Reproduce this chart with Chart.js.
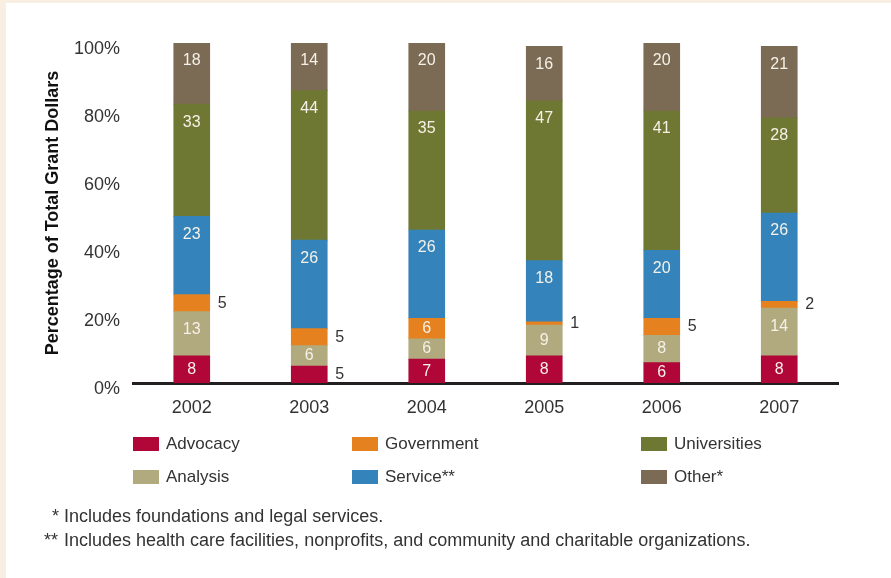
<!DOCTYPE html>
<html>
<head>
<meta charset="utf-8">
<script src="https://cdn.jsdelivr.net/npm/chart.js@4"></script>
<style>
  body { margin: 0; background: #f8eee2; font-family: "Liberation Sans", Arial, sans-serif; }
  #page { position: absolute; left: 6px; top: 3px; width: 885px; height: 575px; background: #fff; }
  #chart { position: absolute; left: 0; top: 0; }
  .leg { position: absolute; font-size: 17px; color: #333; line-height: 20px; }
  .leg span { position: absolute; left: 0; top: 3px; width: 26px; height: 14px; }
  .leg b { font-weight: normal; margin-left: 33px; }
  .note { position: absolute; font-size: 18px; color: #333; line-height: 20px; white-space: nowrap; }
  .note i { position: absolute; font-style: normal; }
</style>
</head>
<body>
<div id="page"></div>
<canvas id="chart" width="891" height="578"></canvas>
<div id="legend"></div>
<div class="note" style="left:64px; top:506px;"><i style="left:-12px">*</i>Includes foundations and legal services.</div>
<div class="note" style="left:64px; top:530px;"><i style="left:-20px">**</i>Includes health care facilities, nonprofits, and community and charitable organizations.</div>
<script>
const years = ["2002", "2003", "2004", "2005", "2006", "2007"];
const advocacy = [8, 5, 7, 8, 6, 8];
const analysis = [13, 6, 6, 9, 8, 14];
const government = [5, 5, 6, 1, 5, 2];
const service = [23, 26, 26, 18, 20, 26];
const universities = [33, 44, 35, 47, 41, 28];
const other = [18, 14, 20, 16, 20, 21];

const seriesNames = ["Advocacy", "Analysis", "Government", "Service**", "Universities", "Other*"];
const seriesColors = ["#b10738", "#b1aa7f", "#e5821f", "#3484bb", "#6f7833", "#7b6b54"];
const seriesValues = [advocacy, analysis, government, service, universities, other];

const FONT = "'Liberation Sans', Arial, sans-serif";

// legend: 3 columns, 2 rows (column-major)
const legendCols = [133, 352, 641];
const legendRows = [434, 467];
const legend = document.getElementById("legend");
seriesNames.forEach((name, k) => {
  const div = document.createElement("div");
  div.className = "leg";
  div.style.left = legendCols[Math.floor(k / 2)] + "px";
  div.style.top = legendRows[k % 2] + "px";
  div.innerHTML = `<span style="background:${seriesColors[k]}"></span><b>${name}</b>`;
  legend.appendChild(div);
});

// numbers on / beside each segment
const segmentLabels = {
  id: "segmentLabels",
  afterDatasetsDraw(chart) {
    const ctx = chart.ctx;
    ctx.save();
    ctx.font = "16px " + FONT;
    ctx.textBaseline = "middle";
    chart.data.datasets.forEach((ds, i) => {
      const meta = chart.getDatasetMeta(i);
      meta.data.forEach((bar, j) => {
        const v = ds.data[j];
        const top = Math.min(bar.y, bar.base);
        const bottom = Math.max(bar.y, bar.base);
        const mid = (top + bottom) / 2;
        if (v <= 5) {
          ctx.fillStyle = "#333";
          ctx.textAlign = "left";
          ctx.fillText(v, bar.x + bar.width / 2 + 8, mid);
        } else {
          ctx.fillStyle = "#f6f1e8";
          ctx.textAlign = "center";
          ctx.fillText(v, bar.x, Math.min(top + 18, mid));
        }
      });
    });
    ctx.restore();
  }
};

new Chart(document.getElementById("chart"), {
  type: "bar",
  data: {
    labels: years,
    datasets: seriesValues.map((vals, i) => ({
      label: seriesNames[i],
      data: vals,
      backgroundColor: seriesColors[i],
      borderWidth: 0,
      barThickness: 36
    }))
  },
  options: {
    responsive: false,
    animation: false,
    layout: { padding: { left: 38, right: 53, top: 43, bottom: 0 } },
    plugins: {
      legend: { display: false },
      tooltip: { enabled: false }
    },
    scales: {
      x: {
        stacked: true,
        grid: { display: false, drawTicks: false },
        border: { display: true, color: "#231f20", width: 3 },
        ticks: { color: "#333", font: { family: FONT, size: 18 }, padding: 14 },
        afterFit: (scale) => { scale.height = 195; }
      },
      y: {
        stacked: true,
        min: 0,
        max: 100,
        grid: { display: false, drawTicks: false },
        border: { display: false },
        ticks: {
          stepSize: 20,
          color: "#333",
          font: { family: FONT, size: 18 },
          padding: 13,
          labelOffset: 6,
          callback: (v) => v + "%"
        },
        title: {
          display: true,
          text: "Percentage of Total Grant Dollars",
          color: "#111",
          font: { family: FONT, size: 18, weight: "bold" }
        },
        afterFit: (scale) => { scale.width = 95; }
      }
    }
  },
  plugins: [segmentLabels]
});
</script>
</body>
</html>
